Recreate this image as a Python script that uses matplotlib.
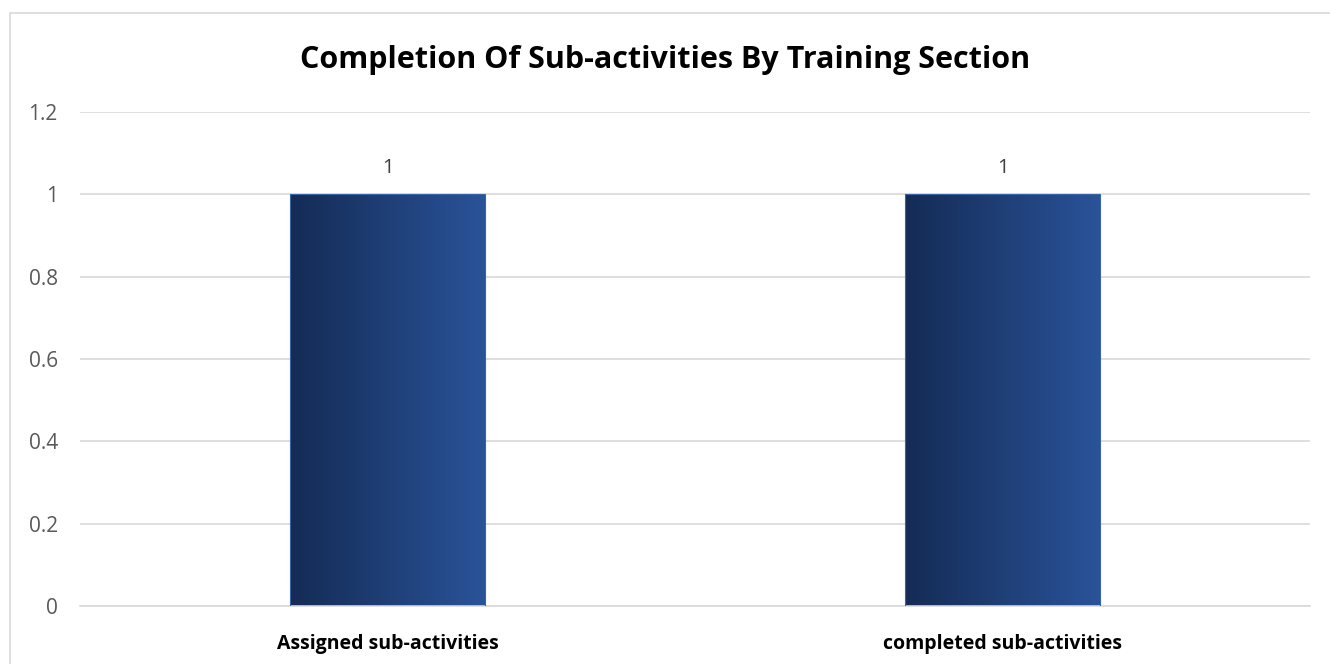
import numpy as np
import matplotlib.pyplot as plt
from matplotlib.colors import LinearSegmentedColormap
from matplotlib.patches import Rectangle

categories = ['Assigned sub-activities', 'completed sub-activities']
values = [1, 1]
yticks = [0, 0.2, 0.4, 0.6, 0.8, 1, 1.2]
ytick_labels = ['0', '0.2', '0.4', '0.6', '0.8', '1', '1.2']

plt.rcParams['font.family'] = ['Open Sans', 'DejaVu Sans']

fig = plt.figure(figsize=(13.3, 6.64), dpi=100)
ax = fig.add_axes([80 / 1330, 1 - 606 / 664, 1230 / 1330, 494 / 664])

# light border around the chart area
fig.patches.append(Rectangle((10 / 1330, -0.01), 1.01, 1 - 13 / 664 + 0.01,
                             transform=fig.transFigure, fill=False,
                             edgecolor='#d9d9d9', linewidth=1.2))

cmap = LinearSegmentedColormap.from_list('bar', ['#142b55', '#2a5399'])
grad = np.linspace(0, 1, 256).reshape(1, -1)
width = 0.317

bars = ax.bar(range(len(categories)), values, width=width, color='none',
              edgecolor='#3a63a8', linewidth=0.8, zorder=3)
for rect, v in zip(bars, values):
    x0 = rect.get_x()
    ax.imshow(grad, cmap=cmap, aspect='auto', zorder=2.5,
              extent=[x0, x0 + rect.get_width(), 0, v])
    ax.text(rect.get_x() + rect.get_width() / 2, v + 0.04, str(v),
            ha='center', va='bottom', fontsize=14.5, color='#404040')

ax.set_xlim(-0.5, 1.5)
ax.set_ylim(0, 1.2)
ax.set_yticks(yticks)
ax.set_yticklabels(ytick_labels)
ax.set_xticks(range(len(categories)))
ax.set_xticklabels(categories, fontsize=14, fontweight='bold', color='black')
ax.tick_params(axis='y', length=0, labelsize=15, labelcolor='#595959', pad=16)
ax.tick_params(axis='x', length=0, pad=20)
ax.grid(axis='y', color='#d9d9d9', linewidth=1.2, zorder=0)
ax.set_axisbelow(True)
for s in ax.spines.values():
    s.set_visible(False)
ax.spines['bottom'].set_visible(True)
ax.spines['bottom'].set_color('#d9d9d9')
ax.spines['bottom'].set_linewidth(1.2)

fig.text(0.5, 1 - 60 / 664, 'Completion Of Sub-activities By Training Section',
         ha='center', va='center', fontsize=22, fontweight='bold', color='black')

fig.savefig('out.png', dpi=100)
